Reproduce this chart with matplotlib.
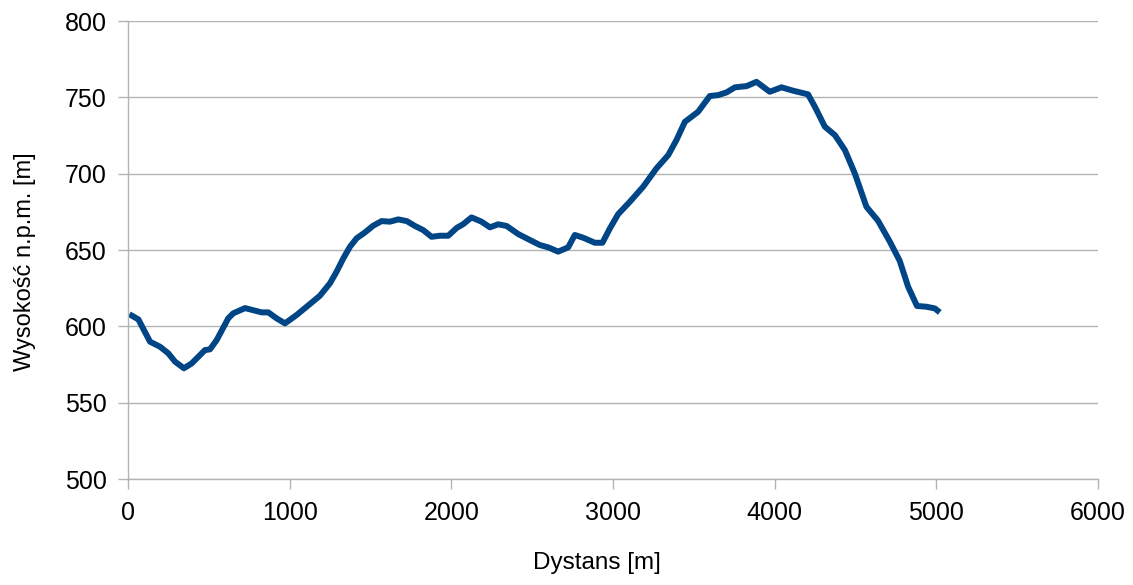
import matplotlib.pyplot as plt

# Profil wysokości trasy
dystans = [8, 64, 136, 198, 249, 291, 346, 394, 476, 507, 548, 620, 651, 724,
           827, 868, 919, 971, 1043, 1105, 1187, 1249, 1290, 1332, 1373, 1414,
           1466, 1517, 1569, 1620, 1672, 1724, 1775, 1826, 1878, 1929, 1981,
           2033, 2074, 2125, 2187, 2239, 2290, 2342, 2414, 2486, 2548, 2599,
           2661, 2723, 2764, 2816, 2888, 2935, 2981, 3032, 3105, 3187, 3269,
           3342, 3393, 3445, 3527, 3599, 3651, 3703, 3755, 3827, 3888, 3970,
           4043, 4114, 4207, 4249, 4311, 4373, 4435, 4496, 4568, 4640, 4713,
           4774, 4826, 4881, 4939, 4991, 5022]
wysokosc = [608, 604.6, 590, 586.7, 582.4, 576.9, 572.6, 575.8, 584.5, 585,
            591, 605.3, 608.6, 612, 609.2, 609.2, 605.3, 602, 607.5, 612.9,
            620.1, 628.2, 635.8, 644.6, 652.2, 657.7, 661.6, 666, 669, 668.6,
            670.1, 669, 665.8, 663.1, 658.7, 659.4, 659.4, 664.5, 667, 671.4,
            668.6, 664.9, 666.9, 665.8, 660.5, 656.6, 653.3, 651.8, 649,
            651.8, 659.9, 658.1, 654.8, 654.8, 664.2, 673.5, 681.7, 691.5,
            703.5, 712.2, 722.1, 734, 740.6, 750.9, 751.5, 753.3, 756.6,
            757.4, 760.2, 753.7, 756.6, 754.4, 752, 743.9, 730.8, 725.3,
            715.5, 700.3, 678.4, 669.2, 655.5, 643, 626, 613.4, 612.9, 611.8,
            609.2]

grey = '#b3b3b3'

plt.rcParams['font.family'] = ['Liberation Sans', 'DejaVu Sans']

fig = plt.figure(figsize=(11.33, 5.85), dpi=100)
ax = fig.add_axes([0.113, 0.181, 0.856, 0.783])

ax.plot(dystans, wysokosc, color='#004586', linewidth=4.3,
        solid_joinstyle='round', solid_capstyle='butt')

ax.set_xlim(0, 6000)
ax.set_ylim(500, 800)
ax.set_xticks(range(0, 6001, 1000))
ax.set_yticks(range(500, 801, 50))

ax.grid(axis='y', color=grey, linewidth=1)
ax.set_axisbelow(True)
for s in ['top', 'right']:
    ax.spines[s].set_visible(False)
for s in ['left', 'bottom']:
    ax.spines[s].set_color(grey)
    ax.spines[s].set_linewidth(1)

ax.tick_params(axis='both', colors=grey, length=7.5, width=1,
               labelcolor='black', labelsize=18)
ax.tick_params(axis='x', pad=8)
ax.tick_params(axis='y', pad=8)

ax.set_xlabel('Dystans [m]', fontsize=17.5)
ax.set_ylabel('Wysokość n.p.m. [m]', fontsize=17)
ax.xaxis.set_label_coords(0.4835, -0.159)
ax.yaxis.set_label_coords(-0.095, 0.474)

plt.savefig('out.png', dpi=100)
